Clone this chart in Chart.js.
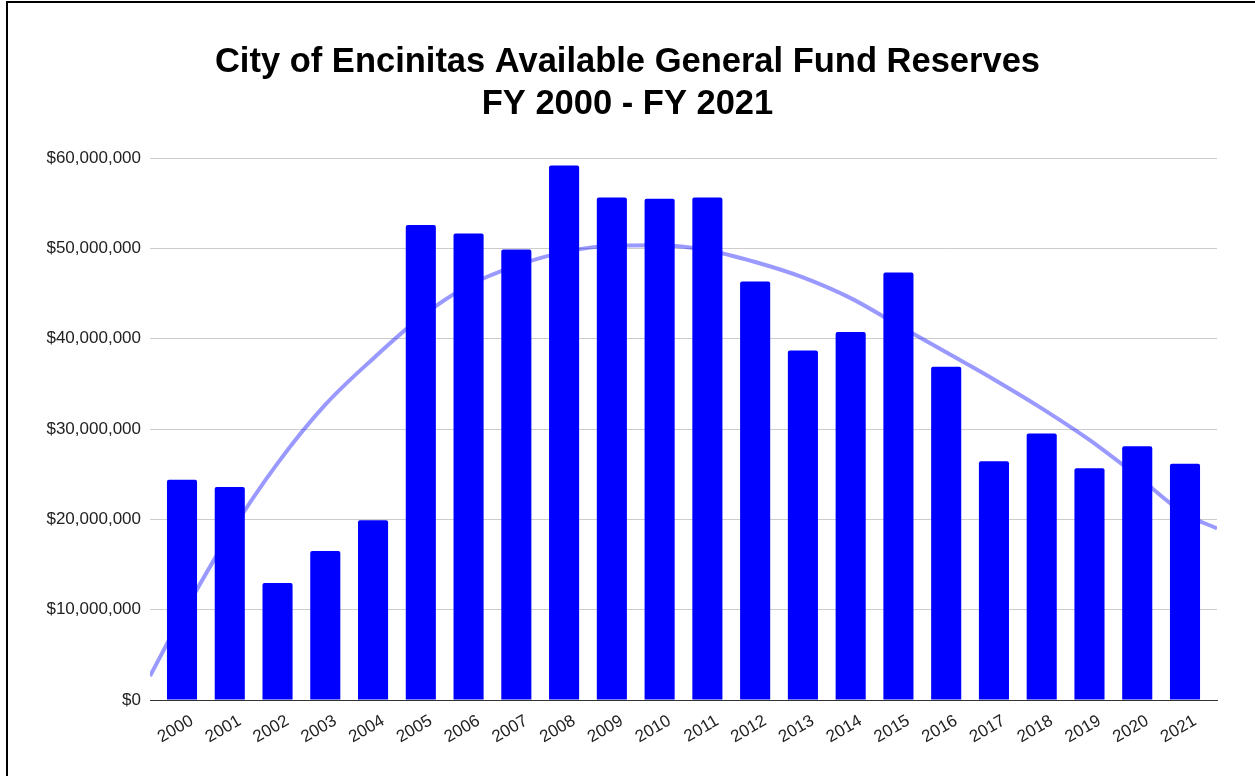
<!DOCTYPE html>
<html>
<head>
<meta charset="utf-8">
<title>City of Encinitas Available General Fund Reserves</title>
<script src="https://cdn.jsdelivr.net/npm/chart.js@4.4.1/dist/chart.umd.min.js"></script>
<style>
  html, body { margin: 0; padding: 0; background: #fff; }
  #wrap { position: absolute; left: 0; top: 0; width: 1255px; height: 776px; }
  #frame {
    position: absolute; left: 6px; top: 1px; width: 1249px; height: 775px;
    border-left: 2px solid #000; border-top: 2px solid #000;
    box-sizing: border-box; pointer-events: none;
  }
</style>
</head>
<body>
<div id="wrap"><canvas id="chart"></canvas></div>
<div id="frame"></div>
<script>
const years = ['2000', '2001', '2002', '2003', '2004', '2005', '2006', '2007', '2008', '2009', '2010',
  '2011', '2012', '2013', '2014', '2015', '2016', '2017', '2018', '2019', '2020', '2021'];

// available reserves per fiscal year ($)
const reserves = [24.4e6, 23.6e6, 12.97e6, 16.5e6, 19.9e6, 52.6e6, 51.65e6, 49.9e6, 59.2e6, 55.65e6, 55.5e6,
  55.65e6, 46.35e6, 38.7e6, 40.75e6, 47.35e6, 36.9e6, 26.45e6, 29.5e6, 25.65e6, 28.1e6, 26.15e6];

// trendline read at each year, plus where it meets the left / right edge of the plot
const trendline = [9.3e6, 18.4e6, 26.2e6, 32.7e6, 37.8e6, 42.4e6, 45.9e6, 48.1e6, 49.6e6, 50.3e6, 50.35e6,
  49.8e6, 48.5e6, 46.8e6, 44.5e6, 41.5e6, 38.5e6, 35.5e6, 32.3e6, 28.8e6, 24.8e6, 20.6e6];
const trendEdges = [2.65e6, 19.0e6];

const yTicks = [0, 10e6, 20e6, 30e6, 40e6, 50e6, 60e6];

const X_MIN = -0.67;
const X_MAX = years.length - 1 + 0.67;
const FONT = "'Liberation Sans', Arial, Helvetica, sans-serif";

const barData = reserves.map((v, i) => ({ x: i, y: v }));
const trendData = [{ x: X_MIN, y: trendEdges[0] }]
  .concat(trendline.map((v, i) => ({ x: i, y: v })))
  .concat([{ x: X_MAX, y: trendEdges[1] }]);

const canvas = document.getElementById('chart');
canvas.width = 1255;
canvas.height = 776;

new Chart(canvas, {
  data: {
    datasets: [
      {
        type: 'line',
        label: 'Trendline',
        data: trendData,
        borderColor: 'rgba(0, 0, 255, 0.4)',
        borderWidth: 4,
        pointRadius: 0,
        fill: false,
        cubicInterpolationMode: 'monotone',
        order: 0
      },
      {
        type: 'bar',
        label: 'Reserves',
        data: barData,
        backgroundColor: '#0000ff',
        borderRadius: 2,
        borderSkipped: 'bottom',
        categoryPercentage: 1,
        barPercentage: 0.63,
        order: 1
      }
    ]
  },
  options: {
    responsive: false,
    animation: false,
    layout: { padding: 0 },
    plugins: {
      legend: { display: false },
      tooltip: { enabled: false },
      title: {
        display: true,
        text: ['City of Encinitas Available General Fund Reserves', 'FY 2000 - FY 2021'],
        color: '#000',
        font: { family: FONT, size: 34.5, weight: 'bold', lineHeight: 1.22 },
        padding: { top: 41, bottom: 33 }
      }
    },
    scales: {
      x: {
        type: 'linear',
        offset: false,
        min: X_MIN,
        max: X_MAX,
        afterBuildTicks: axis => {
          axis.ticks = years.map((y, i) => ({ value: i }));
        },
        afterFit: axis => { axis.height = 76; },
        grid: { display: false, drawTicks: false, offset: false },
        border: { display: true, color: '#333', width: 1 },
        ticks: {
          autoSkip: false,
          minRotation: 30,
          maxRotation: 30,
          labelOffset: 10,
          padding: 11,
          color: '#222',
          font: { family: FONT, size: 17 },
          callback: v => years[v]
        }
      },
      y: {
        min: 0,
        max: 60e6,
        afterBuildTicks: axis => {
          axis.ticks = yTicks.map(v => ({ value: v }));
        },
        afterFit: axis => { axis.width = 150; },
        grid: { color: '#cccccc', lineWidth: 1, drawTicks: false },
        border: { display: false },
        ticks: {
          padding: 9,
          color: '#222',
          font: { family: FONT, size: 17 },
          callback: v => '$' + v.toLocaleString('en-US')
        }
      },
      // empty right-hand margin so the title stays centred on the whole page
      yRight: {
        position: 'right',
        afterFit: axis => { axis.width = 38; },
        grid: { display: false, drawTicks: false },
        border: { display: false },
        ticks: { display: false }
      }
    }
  }
});
</script>
</body>
</html>
